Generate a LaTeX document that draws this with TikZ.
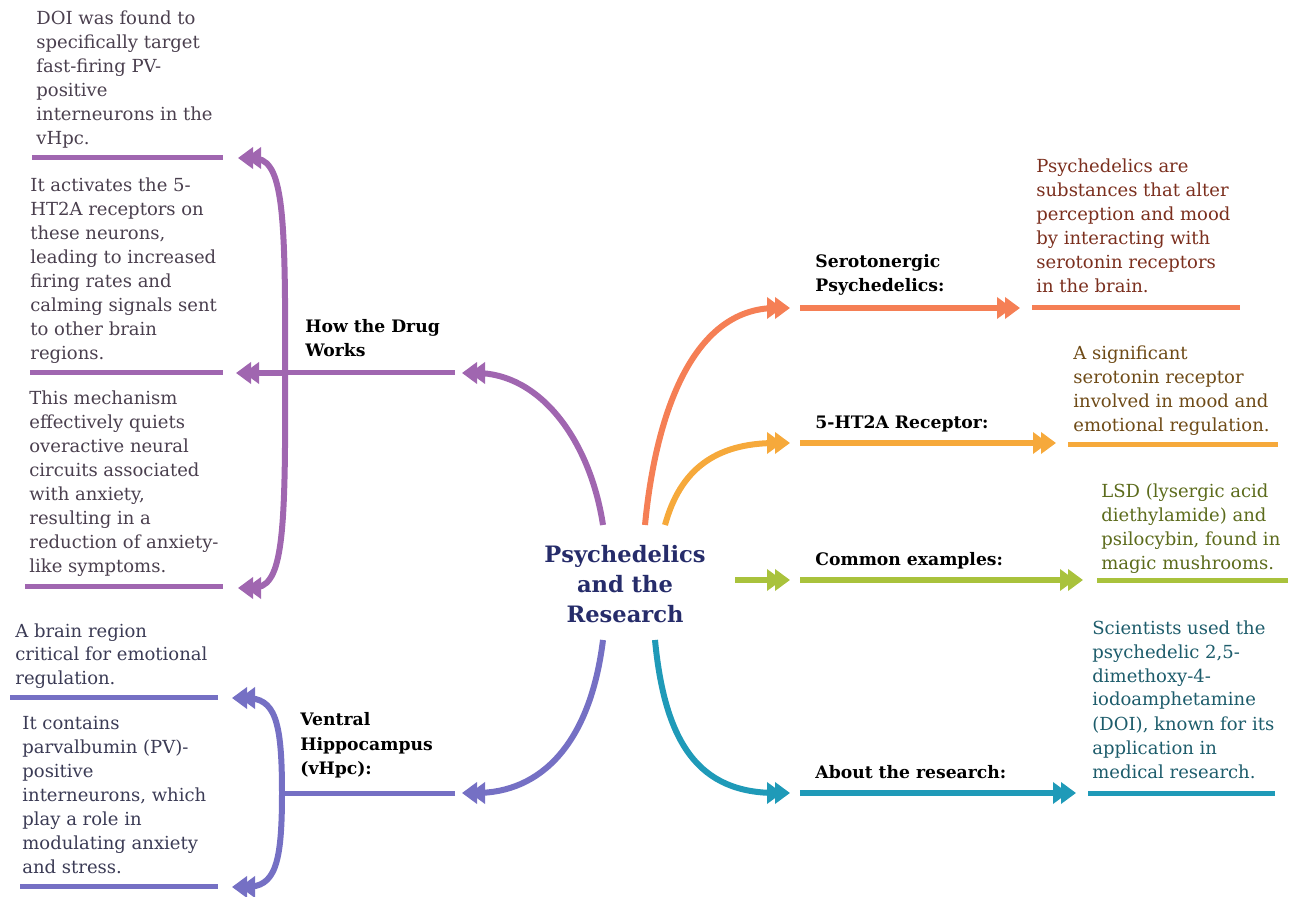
\documentclass[tikz,border=0pt]{standalone}
\usepackage{fontspec}
\setmainfont{DejaVu Serif}
\usetikzlibrary{arrows.meta}
\definecolor{drugline}{HTML}{A066B0}
\definecolor{drugtext}{HTML}{4A3F4E}
\definecolor{hippline}{HTML}{7570C4}
\definecolor{hipptext}{HTML}{3B3B55}
\definecolor{seroline}{HTML}{F57F55}
\definecolor{serotext}{HTML}{7B2F1E}
\definecolor{recline}{HTML}{F6A93B}
\definecolor{rectext}{HTML}{6E4A16}
\definecolor{exline}{HTML}{A9C23C}
\definecolor{extext}{HTML}{5C6B1C}
\definecolor{resline}{HTML}{1F9AB8}
\definecolor{restext}{HTML}{1D5C6B}
\definecolor{hubtext}{HTML}{262C6A}
\tikzset{%
    >={Triangle[length=7.5pt,width=10.5pt,sep=-3.5pt]Triangle[length=7.5pt,width=10.5pt]},
    branch/.style={line width=3pt,->},
    rule/.style={line width=2.5pt},
    note/.style={anchor=base west,inner sep=0pt,align=left,font=\fontsize{9}{12}\selectfont},
    headtext/.style={anchor=base west,inner sep=0pt,align=left,font=\bfseries\fontsize{8.6}{12.3}\selectfont}
}

\begin{document}
\begin{tikzpicture}[x=0.5pt,y=-0.5pt]
      \useasboundingbox (0,0) rectangle (1291,897);

      % centre
      \node[align=center,inner sep=0pt,text=hubtext,font=\bfseries\fontsize{11.3}{15}\selectfont] (hub) at (625,584) {Psychedelics\\and the\\Research};

      \coordinate (drugsrc) at (603,525);
      \coordinate (hippsrc) at (603,640);
      \coordinate (serosrc) at (645,525);
      \coordinate (recsrc) at (665,525);
      \coordinate (exsrc) at (735,580);
      \coordinate (ressrc) at (655,640);

      % left: how the drug works
      \coordinate (drugend) at (462,373);
      \coordinate (drugbar) at (455,373);
      \coordinate (drugfork) at (285,373);
      \coordinate (drugtop) at (238,158);
      \coordinate (drugmid) at (236,373);
      \coordinate (drugbot) at (238,588);
      \draw[drugline,branch] (drugsrc) .. controls (590,440) and (540,373) .. (drugend);
      \draw[drugline,rule] (drugbar) -- (drugfork);
      \draw[drugline,branch] (drugfork) -- (drugmid);
      \draw[drugline,branch] (drugfork) .. controls (286,200) and (282,158) .. (drugtop);
      \draw[drugline,branch] (drugfork) .. controls (286,546) and (282,588) .. (drugbot);
      \node[headtext] (drughead) at (305,357) {How the Drug\\Works};

      \node[note,text=drugtext] (doinote) at (36,145) {DOI was found to\\specifically target\\fast-firing PV-\\positive\\interneurons in the\\vHpc.};
      \node[note,text=drugtext] (htnote) at (30,360) {It activates the 5-\\HT2A receptors on\\these neurons,\\leading to increased\\firing rates and\\calming signals sent\\to other brain\\regions.};
      \node[note,text=drugtext] (mechnote) at (29,573) {This mechanism\\effectively quiets\\overactive neural\\circuits associated\\with anxiety,\\resulting in a\\reduction of anxiety-\\like symptoms.};
      \draw[drugline,rule] (32,158) -- (223,158);
      \draw[drugline,rule] (30,373) -- (223,373);
      \draw[drugline,rule] (25,587) -- (223,587);

      % left: ventral hippocampus
      \coordinate (hippend) at (462,793);
      \coordinate (hippbar) at (455,793);
      \coordinate (hippfork) at (282,793);
      \coordinate (hipptop) at (232,698);
      \coordinate (hippbot) at (232,887);
      \draw[hippline,branch] (hippsrc) .. controls (590,745) and (540,793) .. (hippend);
      \draw[hippline,rule] (hippbar) -- (hippfork);
      \draw[hippline,branch] (hippfork) .. controls (282,720) and (275,698) .. (hipptop);
      \draw[hippline,branch] (hippfork) .. controls (282,865) and (275,887) .. (hippbot);
      \node[headtext] (hipphead) at (300,775) {Ventral\\Hippocampus\\(vHpc):};

      \node[note,text=hipptext] (regionnote) at (15,685) {A brain region\\critical for emotional\\regulation.};
      \node[note,text=hipptext] (pvnote) at (22,873) {It contains\\parvalbumin (PV)-\\positive\\interneurons, which\\play a role in\\modulating anxiety\\and stress.};
      \draw[hippline,rule] (10,698) -- (218,698);
      \draw[hippline,rule] (20,886) -- (218,886);

      % right: serotonergic psychedelics
      \coordinate (seroend) at (790,308);
      \coordinate (serobar) at (800,308);
      \coordinate (serotip) at (1020,308);
      \draw[seroline,branch] (serosrc) .. controls (655,420) and (690,308) .. (seroend);
      \draw[seroline,branch] (serobar) -- (serotip);
      \node[headtext] (serohead) at (815,292) {Serotonergic\\Psychedelics:};
      \node[note,text=serotext] (seronote) at (1036,293) {Psychedelics are\\substances that alter\\perception and mood\\by interacting with\\serotonin receptors\\in the brain.};
      \draw[seroline,rule] (1032,308) -- (1240,308);

      % right: 5-HT2A receptor
      \coordinate (recend) at (790,443);
      \coordinate (recbar) at (800,443);
      \coordinate (rectip) at (1056,443);
      \draw[recline,branch] (recsrc) .. controls (680,470) and (715,443) .. (recend);
      \draw[recline,branch] (recbar) -- (rectip);
      \node[headtext] (rechead) at (815,429) {5-HT2A Receptor:};
      \node[note,text=rectext] (recnote) at (1073,432) {A significant\\serotonin receptor\\involved in mood and\\emotional regulation.};
      \draw[recline,rule] (1068,445) -- (1278,445);

      % right: common examples
      \coordinate (exend) at (790,580);
      \coordinate (exbar) at (800,580);
      \coordinate (extip) at (1083,580);
      \draw[exline,branch] (exsrc) -- (exend);
      \draw[exline,branch] (exbar) -- (extip);
      \node[headtext] (exhead) at (815,566) {Common examples:};
      \node[note,text=extext] (exnote) at (1101,570) {LSD (lysergic acid\\diethylamide) and\\psilocybin, found in\\magic mushrooms.};
      \draw[exline,rule] (1097,581) -- (1288,581);

      % right: about the research
      \coordinate (resend) at (790,793);
      \coordinate (resbar) at (800,793);
      \coordinate (restip) at (1076,793);
      \draw[resline,branch] (ressrc) .. controls (665,745) and (700,793) .. (resend);
      \draw[resline,branch] (resbar) -- (restip);
      \node[headtext] (reshead) at (815,778) {About the research:};
      \node[note,text=restext] (resnote) at (1092,778) {Scientists used the\\psychedelic 2,5-\\dimethoxy-4-\\iodoamphetamine\\(DOI), known for its\\application in\\medical research.};
      \draw[resline,rule] (1088,793) -- (1275,793);
\end{tikzpicture}
\end{document}
